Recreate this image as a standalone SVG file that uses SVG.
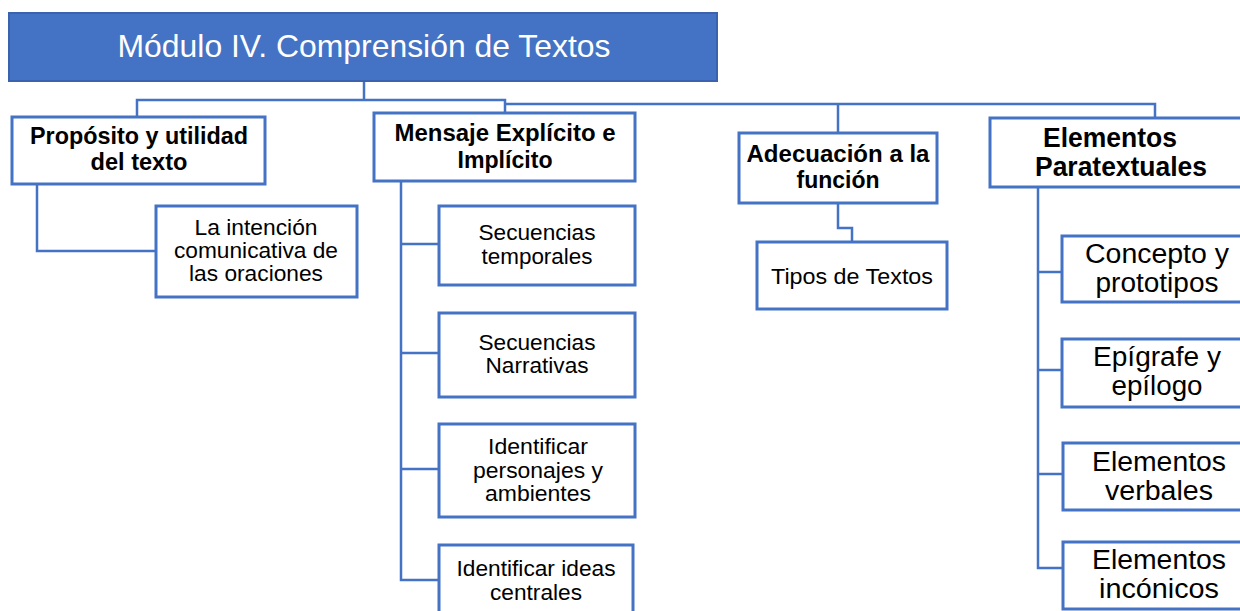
<svg xmlns="http://www.w3.org/2000/svg" width="1240" height="611" viewBox="0 0 1240 611">
<style>
.box{fill:#ffffff;stroke:#4472C4;stroke-width:3}
.conn{fill:none;stroke:#4472C4;stroke-width:2.5}
text{font-family:"Liberation Sans",Arial,sans-serif;fill:#000;text-anchor:middle;dominant-baseline:central}
.b{font-weight:bold;font-size:23.5px}
.r{font-size:21.5px}
.l{font-size:27px}
</style>
<rect width="1240" height="611" fill="#ffffff"/>
<g id="connectors">
<polyline class="conn" points="364,82 364,100"/>
<polyline class="conn" points="137,117 137,100 505,100 505,113"/>
<polyline class="conn" points="505,104 1155,104 1155,118"/>
<polyline class="conn" points="838,104 838,133"/>
<polyline class="conn" points="37,184 37,251 156,251"/>
<polyline class="conn" points="401,181 401,580 439,580"/>
<polyline class="conn" points="401,244 439,244"/>
<polyline class="conn" points="401,353 439,353"/>
<polyline class="conn" points="401,469 439,469"/>
<polyline class="conn" points="838,203 838,228 852,228 852,242"/>
<polyline class="conn" points="1038,187 1038,568 1063,568"/>
<polyline class="conn" points="1038,272 1062,272"/>
<polyline class="conn" points="1038,370 1062,370"/>
<polyline class="conn" points="1038,474 1063,474"/>
</g>
<g id="title">
<rect x="9" y="13" width="708" height="68" fill="#4472C4" stroke="#3a62ad" stroke-width="2"/>
<text x="364" y="46" font-size="32" textLength="493" lengthAdjust="spacingAndGlyphs" style="fill:#ffffff">Módulo IV. Comprensión de Textos</text>
</g>
<g id="proposito">
<rect class="box" x="12" y="117" width="253" height="67"/>
<text class="b" x="139" y="136" textLength="218" lengthAdjust="spacingAndGlyphs">Propósito y utilidad</text>
<text class="b" x="139" y="162" textLength="97" lengthAdjust="spacingAndGlyphs">del texto</text>
</g>
<g id="intencion">
<rect class="box" x="156" y="206" width="201" height="91"/>
<text class="r" x="256" y="228" textLength="123" lengthAdjust="spacingAndGlyphs">La intención</text>
<text class="r" x="256" y="251" textLength="164" lengthAdjust="spacingAndGlyphs">comunicativa de</text>
<text class="r" x="256" y="274" textLength="134" lengthAdjust="spacingAndGlyphs">las oraciones</text>
</g>
<g id="mensaje">
<rect class="box" x="374" y="113" width="261" height="68"/>
<text class="b" x="505" y="133" textLength="221" lengthAdjust="spacingAndGlyphs">Mensaje Explícito e</text>
<text class="b" x="505" y="160" textLength="95" lengthAdjust="spacingAndGlyphs">Implícito</text>
</g>
<g id="temporales">
<rect class="box" x="439" y="206" width="196" height="79"/>
<text class="r" x="537" y="233" textLength="117" lengthAdjust="spacingAndGlyphs">Secuencias</text>
<text class="r" x="537" y="257" textLength="111" lengthAdjust="spacingAndGlyphs">temporales</text>
</g>
<g id="narrativas">
<rect class="box" x="439" y="313" width="196" height="84"/>
<text class="r" x="537" y="343" textLength="117" lengthAdjust="spacingAndGlyphs">Secuencias</text>
<text class="r" x="537" y="366" textLength="103" lengthAdjust="spacingAndGlyphs">Narrativas</text>
</g>
<g id="personajes">
<rect class="box" x="439" y="424" width="196" height="93"/>
<text class="r" x="538" y="447" textLength="100" lengthAdjust="spacingAndGlyphs">Identificar</text>
<text class="r" x="538" y="471" textLength="130" lengthAdjust="spacingAndGlyphs">personajes y</text>
<text class="r" x="538" y="494" textLength="106" lengthAdjust="spacingAndGlyphs">ambientes</text>
</g>
<g id="ideas">
<rect class="box" x="439" y="545" width="194" height="70"/>
<text class="r" x="536" y="569" textLength="159" lengthAdjust="spacingAndGlyphs">Identificar ideas</text>
<text class="r" x="536" y="593" textLength="92" lengthAdjust="spacingAndGlyphs">centrales</text>
</g>
<g id="adecuacion">
<rect class="box" x="739" y="133" width="198" height="70"/>
<text class="b" x="838" y="154" textLength="183" lengthAdjust="spacingAndGlyphs">Adecuación a la</text>
<text class="b" x="838" y="180" textLength="83" lengthAdjust="spacingAndGlyphs">función</text>
</g>
<g id="tipos">
<rect class="box" x="757" y="242" width="190" height="67"/>
<text class="r" x="852" y="277" textLength="162" lengthAdjust="spacingAndGlyphs">Tipos de Textos</text>
</g>
<g id="paratextuales">
<rect class="box" x="990" y="118" width="260" height="69"/>
<text class="l" x="1110" y="138" textLength="134" lengthAdjust="spacingAndGlyphs" font-weight="bold">Elementos</text>
<text class="l" x="1121" y="167" textLength="172" lengthAdjust="spacingAndGlyphs" font-weight="bold">Paratextuales</text>
</g>
<g id="concepto">
<rect class="box" x="1062" y="236" width="190" height="66"/>
<text class="l" x="1157" y="254" textLength="144" lengthAdjust="spacingAndGlyphs">Concepto y</text>
<text class="l" x="1157" y="283" textLength="123" lengthAdjust="spacingAndGlyphs">prototipos</text>
</g>
<g id="epigrafe">
<rect class="box" x="1062" y="339" width="190" height="68"/>
<text class="l" x="1157" y="357" textLength="128" lengthAdjust="spacingAndGlyphs">Epígrafe y</text>
<text class="l" x="1157" y="386" textLength="91" lengthAdjust="spacingAndGlyphs">epílogo</text>
</g>
<g id="verbales">
<rect class="box" x="1063" y="443" width="190" height="67"/>
<text class="l" x="1159" y="462" textLength="134" lengthAdjust="spacingAndGlyphs">Elementos</text>
<text class="l" x="1159" y="491" textLength="108" lengthAdjust="spacingAndGlyphs">verbales</text>
</g>
<g id="iconicos">
<rect class="box" x="1063" y="542" width="190" height="67"/>
<text class="l" x="1159" y="560" textLength="134" lengthAdjust="spacingAndGlyphs">Elementos</text>
<text class="l" x="1159" y="589" textLength="120" lengthAdjust="spacingAndGlyphs">incónicos</text>
</g>
</svg>
